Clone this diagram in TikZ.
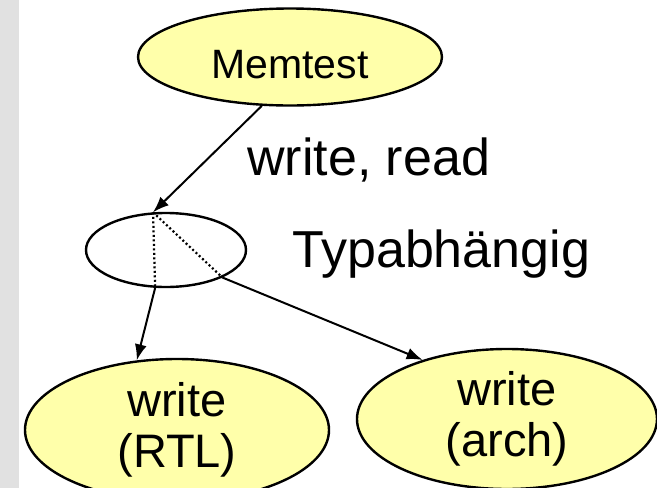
\documentclass[tikz,border=0pt]{standalone}
\usepackage{fontspec}
\setmainfont{Liberation Sans}
\usepackage{tikz}
\usetikzlibrary{positioning}
\usetikzlibrary{shapes.geometric}
\usetikzlibrary{arrows.meta}

\definecolor{stripgrey}{HTML}{E1E1E1}
\definecolor{taskyellow}{HTML}{FFFFAA}

\tikzset{
	task/.style={ellipse, draw, line width=2.4pt, fill=taskyellow, inner sep=0pt, align=center},
	hub/.style={ellipse, draw, line width=2.4pt, inner sep=0pt},
	big/.style={font=\fontsize{47}{51}\selectfont},
	huge/.style={font=\fontsize{52}{56}\selectfont}
}

\begin{document}
\begin{tikzpicture}[>={Latex[length=16pt,width=12pt]},x=1pt,y=-1pt,line width=2pt]
	\path[clip, use as bounding box] (0,0) rectangle (657,488);
	\fill[white] (0,0) rectangle (657,488);
	\fill[stripgrey] (0,0) rectangle (19,488);

	\node[task, minimum width=304pt, minimum height=97pt, font=\fontsize{41}{45}\selectfont, text height=42pt, text depth=0pt]	(mem)	at (290,57) {Memtest};
	\node[hub, minimum width=160pt, minimum height=74pt]	(typ)	at (166,250) {};
	\node[task, big, minimum width=304pt, minimum height=142pt]	(rtl)	at (177,430) {write\\(RTL)};
	\node[task, big, minimum width=300pt, minimum height=140pt]	(arch)	at (507,419) {write\\(arch)};

	\node[huge, anchor=base west]	(wr)	at (243,175) {write, read};
	\node[huge, anchor=base west]	(dep)	at (288,267) {Typabhängig};

	\coordinate (in) at (typ.109);

	\path[->]
		(mem.240) edge (in)
		(typ.254) edge (rtl.120)
		(typ.334) edge (arch.145);

	% inside the type switch the paths are only dotted
	\path[line width=2.2pt, dash pattern=on 2pt off 2.5pt]
		(in) edge (typ.254)
			 edge (typ.334);
\end{tikzpicture}
\end{document}
